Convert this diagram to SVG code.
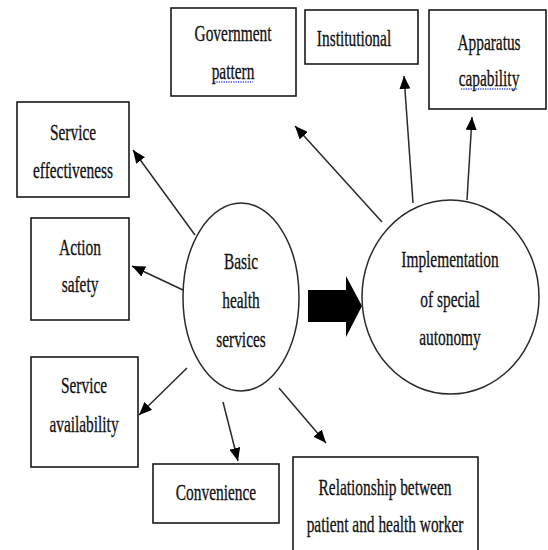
<svg xmlns="http://www.w3.org/2000/svg" width="548" height="550" viewBox="0 0 548 550">
<style>
.box{fill:#fff;stroke:#1a1a1a;stroke-width:1.6}
.ell{fill:#fff;stroke:#2a2a2a;stroke-width:1.5}
text{font-family:'Liberation Serif','Times New Roman',serif;font-size:19px;fill:#111;stroke:#111;stroke-width:0.25;text-anchor:middle}
.con{stroke:#2a2a2a;stroke-width:1.5;fill:none;marker-end:url(#ah)}
.sq{stroke:#3344dd;stroke-width:1.3;stroke-dasharray:1.2 1.2;fill:none}
</style>
<defs>
<marker id="ah" markerUnits="userSpaceOnUse" markerWidth="13" markerHeight="11" refX="13" refY="5.5" orient="auto">
<path d="M0,0 L13,5.5 L0,11 z" fill="#000"/>
</marker>
</defs>
<rect width="548" height="550" fill="#fff"/>
<g id="connectors">
<line class="con" x1="195" y1="235" x2="133" y2="150"/>
<line class="con" x1="183" y1="290" x2="132" y2="266"/>
<line class="con" x1="187" y1="368" x2="139" y2="415"/>
<line class="con" x1="223" y1="402" x2="238" y2="461"/>
<line class="con" x1="279" y1="388" x2="326" y2="443"/>
<line class="con" x1="382" y1="222" x2="295" y2="126"/>
<line class="con" x1="413" y1="203" x2="404" y2="76"/>
<line class="con" x1="467" y1="200" x2="472" y2="117"/>
<path id="block-arrow" d="M308,290 L346,290 L346,276 L362,306 L346,337 L346,322 L308,322 z" fill="#000"/>
</g>
<g id="government-pattern">
<rect class="box" x="171" y="8" width="125" height="88"/>
<text transform="translate(233,41) scale(0.81,1.22)">Government</text>
<text transform="translate(233,79) scale(0.81,1.22)">pattern</text>
<path class="sq" d="M214,82 L253,82"/>
</g>
<g id="institutional">
<rect class="box" x="305" y="10" width="113" height="54"/>
<text transform="translate(354,46) scale(0.81,1.22)">Institutional</text>
</g>
<g id="apparatus-capability">
<rect class="box" x="429" y="10" width="117" height="99"/>
<text transform="translate(489,50) scale(0.81,1.22)">Apparatus</text>
<text transform="translate(489,86) scale(0.81,1.22)">capability</text>
<path class="sq" d="M461,89 L517,89"/>
</g>
<g id="service-effectiveness">
<rect class="box" x="17" y="102" width="112" height="95"/>
<text transform="translate(73,140) scale(0.81,1.22)">Service</text>
<text transform="translate(73,178) scale(0.81,1.22)">effectiveness</text>
</g>
<g id="action-safety">
<rect class="box" x="31" y="218" width="98" height="102"/>
<text transform="translate(80,255) scale(0.81,1.22)">Action</text>
<text transform="translate(80,292) scale(0.81,1.22)">safety</text>
</g>
<g id="service-availability">
<rect class="box" x="31" y="357" width="107" height="110"/>
<text transform="translate(84,393) scale(0.81,1.22)">Service</text>
<text transform="translate(84,432) scale(0.81,1.22)">availability</text>
</g>
<g id="convenience">
<rect class="box" x="153" y="464" width="126" height="59"/>
<text transform="translate(216,500) scale(0.81,1.22)">Convenience</text>
</g>
<g id="relationship">
<rect class="box" x="293" y="457" width="185" height="100"/>
<text transform="translate(385,495) scale(0.81,1.22)">Relationship between</text>
<text transform="translate(385,532) scale(0.81,1.22)">patient and health worker</text>
</g>
<g id="basic-health-services">
<ellipse class="ell" cx="241" cy="297" rx="58" ry="94"/>
<text transform="translate(241,269) scale(0.81,1.22)">Basic</text>
<text transform="translate(241,308) scale(0.81,1.22)">health</text>
<text transform="translate(241,347) scale(0.81,1.22)">services</text>
</g>
<g id="implementation">
<ellipse class="ell" cx="450.5" cy="297" rx="88.5" ry="97"/>
<text transform="translate(450,267) scale(0.81,1.22)">Implementation</text>
<text transform="translate(450,307) scale(0.81,1.22)">of special</text>
<text transform="translate(450,345) scale(0.81,1.22)">autonomy</text>
</g>
</svg>
